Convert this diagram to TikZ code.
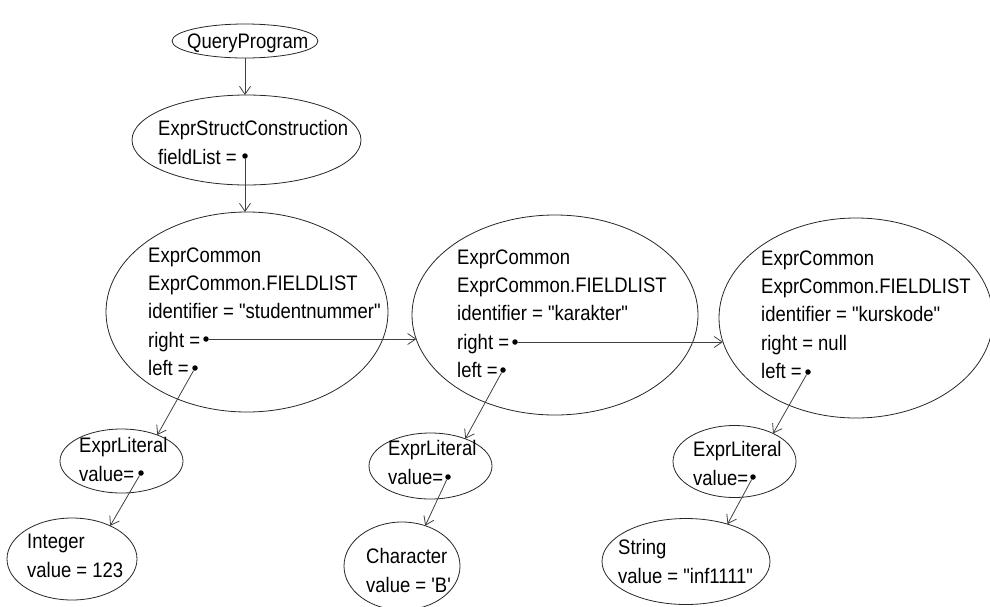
\documentclass[tikz,border=0pt]{standalone}
\usepackage{fontspec}
\setmainfont{Liberation Sans}[FakeStretch=0.88,Ligatures=TeXOff]
\usetikzlibrary{shapes.geometric,arrows.meta}
\begin{document}
\begin{tikzpicture}[x=1pt,y=-1pt,
  obj/.style={ellipse,draw=black!85,line width=0.8pt,inner sep=0pt,outer sep=0pt},
  % multi-line text is placed by the baseline of its last line
  txt/.style={align=left,anchor=base west,inner sep=0pt,font=\fontsize{21}{28.4}\selectfont},
  ptr/.style={circle,fill=black,inner sep=0pt,minimum size=5.5pt},
  link/.style={draw=black!75,line width=0.8pt,-{Straight Barb[length=8pt,width=11pt]}},
]
\useasboundingbox (0,0) rectangle (990,606);
\clip (0,0) rectangle (990,606);

% object ellipses
\node[obj,minimum width=146pt,minimum height=34pt]  (qp)  at (245,41) {};
\node[obj,minimum width=229pt,minimum height=90pt]  (esc) at (246.5,140) {};
\node[obj,minimum width=282pt,minimum height=200pt] (ec1) at (247,312) {};
\node[obj,minimum width=286pt,minimum height=200pt] (ec2) at (555,315) {};
\node[obj,minimum width=274pt,minimum height=200pt] (ec3) at (856,318) {};
\node[obj,minimum width=123pt,minimum height=64pt]  (lit1) at (121.5,461) {};
\node[obj,minimum width=123pt,minimum height=66pt]  (lit2) at (430.5,466) {};
\node[obj,minimum width=123pt,minimum height=72pt]  (lit3) at (734.5,461.5) {};
\node[obj,minimum width=130pt,minimum height=82pt]  (int)  at (72,559) {};
\node[obj,minimum width=116pt,minimum height=88pt]  (chr)  at (402,566) {};
\node[obj,minimum width=168pt,minimum height=86pt]  (str)  at (686,561.5) {};

% field texts
\node[txt] (qpt) at (187,48) {QueryProgram};
\node[txt] (esct) at (158,164) {ExprStructConstruction\\fieldList =};
\node[txt] (ec1t) at (148,375.6) {ExprCommon\\ExprCommon.FIELDLIST\\identifier = "studentnummer"\\right =\\left =};
\node[txt] (ec2t) at (457,377.6) {ExprCommon\\ExprCommon.FIELDLIST\\identifier = "karakter"\\right =\\left =};
\node[txt] (ec3t) at (761,378.6) {ExprCommon\\ExprCommon.FIELDLIST\\identifier = "kurskode"\\right = null\\left =};
\node[txt] (lit1t) at (79,481) {ExprLiteral\\value=};
\node[txt] (lit2t) at (388,484) {ExprLiteral\\value=};
\node[txt] (lit3t) at (693,485) {ExprLiteral\\value=};
\node[txt] (intt) at (27,577) {Integer\\value = 123};
\node[txt] (chrt) at (366,592) {Character\\value = 'B'};
\node[txt] (strt) at (618,583) {String\\value = "inf1111"};

% reference dots
\node[ptr] (d0)  at (245,156) {};
\node[ptr] (d1r) at (206,339) {};
\node[ptr] (d1l) at (195,368) {};
\node[ptr] (d2r) at (515,342) {};
\node[ptr] (d2l) at (503,370) {};
\node[ptr] (d3l) at (808,372) {};
\node[ptr] (v1)  at (141,473) {};
\node[ptr] (v2)  at (448,477) {};
\node[ptr] (v3)  at (753,477) {};

% references
\draw[link] (qp.south) -- (qp.south |- esc.north);
\draw[link] (d0) -- (d0 |- ec1.north);
\draw[link] (d1r) -- (d1r -| ec2.190);
\draw[link] (d2r) -- (d2r -| ec3.190);
\draw[link] (d1l) -- (lit1.36);
\draw[link] (d2l) -- (lit2.38);
\draw[link] (d3l) -- (lit3.36);
\draw[link] (v1) -- (int.41);
\draw[link] (v2) -- (chr.60);
\draw[link] (v3) -- (str.42);
\end{tikzpicture}
\end{document}
